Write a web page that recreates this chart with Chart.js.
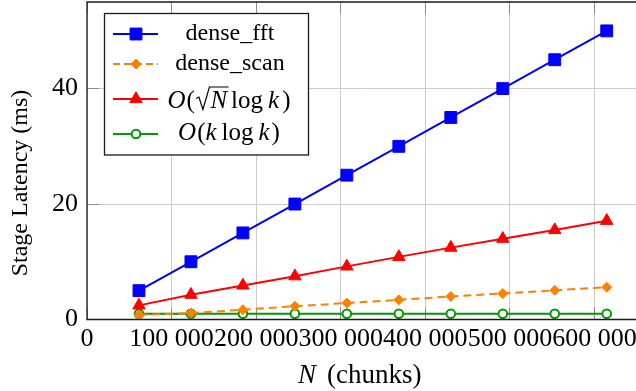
<!DOCTYPE html>
<html>
<head>
<meta charset="utf-8">
<script src="https://cdn.jsdelivr.net/npm/chart.js@4.4.1/dist/chart.umd.min.js"></script>
<style>
  html, body { margin: 0; padding: 0; background: #fff; }
  #c { display: block; }
</style>
</head>
<body>
<canvas id="c" width="636" height="391"></canvas>
<script>
// N (number of chunks) for each measurement
const chunkCounts = [61440, 122880, 184320, 245760, 307200, 368640, 430080, 491520, 552960, 614400];

// Stage latency in ms, one array per series
const denseFft = [5, 10, 15, 20, 25, 30, 35, 40, 45, 50];
const denseScan = [0.8, 1.1, 1.7, 2.3, 2.85, 3.4, 4.0, 4.5, 5.05, 5.6];
const sqrtNLogK = [2.45, 4.3, 5.9, 7.5, 9.2, 10.85, 12.45, 14.0, 15.5, 17.1];
const kLogK = [1.0, 1.0, 1.0, 1.0, 1.0, 1.0, 1.0, 1.0, 1.0, 1.0];

const seriesNames = ['dense_fft', 'dense_scan', 'O(√N log k)', 'O(k log k)'];

// Tick labels
const xTickValues = [0, 100000, 200000, 300000, 400000, 500000, 600000];
const xTickLabels = ['0', '100 000', '200 000', '300 000', '400 000', '500 000', '600 000'];
const yTickValues = [0, 20, 40];
const yTickLabels = ['0', '20', '40'];

const SERIF = '"Liberation Serif", "Times New Roman", serif';

const toPoints = (ys) => chunkCounts.map((n, i) => ({ x: n, y: ys[i] }));

// marker shapes, same geometry as Chart.js point styles
function marker(ctx, style, x, y, r) {
    ctx.beginPath();
    if (style === 'rect') {
        const s = Math.SQRT1_2 * r;
        ctx.rect(x - s, y - s, 2 * s, 2 * s);
    } else if (style === 'rectRot') {
        ctx.moveTo(x - r, y); ctx.lineTo(x, y - r); ctx.lineTo(x + r, y); ctx.lineTo(x, y + r);
        ctx.closePath();
    } else if (style === 'triangle') {
        const a = 2 * Math.PI / 3;
        ctx.moveTo(x, y - r);
        ctx.lineTo(x + Math.sin(a) * r, y - Math.cos(a) * r);
        ctx.lineTo(x + Math.sin(2 * a) * r, y - Math.cos(2 * a) * r);
        ctx.closePath();
    } else {
        ctx.arc(x, y, r, 0, Math.PI * 2);
    }
    ctx.fill();
    ctx.stroke();
}

// draws a row of text pieces (italic / roman / radical) centered at cx
function drawMath(ctx, parts, cx, baseline, size) {
    const fontOf = (p) => (p.it ? 'italic ' : '') + size + 'px ' + SERIF;
    let total = 0;
    parts.forEach(p => {
        ctx.font = fontOf(p);
        p.w = p.sqrt ? size * 0.62 : ctx.measureText(p.t).width;
        total += p.w + (p.gap || 0);
    });
    let x = cx - total / 2;
    ctx.textAlign = 'left';
    ctx.textBaseline = 'alphabetic';
    parts.forEach((p, i) => {
        if (p.sqrt) {
            const next = parts[i + 1];
            ctx.font = fontOf(next);
            const nw = ctx.measureText(next.t).width;
            ctx.beginPath();
            ctx.lineWidth = 1.2;
            ctx.moveTo(x + size * 0.05, baseline - size * 0.36);
            ctx.lineTo(x + size * 0.16, baseline - size * 0.42);
            ctx.lineTo(x + size * 0.32, baseline + size * 0.08);
            ctx.lineTo(x + size * 0.58, baseline - size * 0.82);
            ctx.lineTo(x + p.w + nw + size * 0.06, baseline - size * 0.82);
            ctx.stroke();
        } else {
            ctx.font = fontOf(p);
            ctx.fillText(p.t, x, baseline);
        }
        x += p.w + (p.gap || 0);
    });
}

const legendRows = [
    { color: '#0000ff', dash: [], style: 'rect', r: 8.4, fill: '#0000ff', y: 34, base: 39.5 },
    { color: '#ff8000', dash: [7, 4], style: 'rectRot', r: 5, fill: '#ff8000', y: 64, base: 70 },
    { color: '#ff0000', dash: [], style: 'triangle', r: 7.2, fill: '#ff0000', y: 99, base: 107.5 },
    { color: '#009900', dash: [], style: 'circle', r: 4.3, fill: '#ffffff', y: 134, base: 140 }
];

const mathRows = {
    2: [{ t: 'O', it: true, gap: 1 }, { t: '(' }, { sqrt: true, t: '' }, { t: 'N', it: true, gap: 4 },
        { t: 'log', gap: 5 }, { t: 'k', it: true, gap: 3 }, { t: ')' }],
    3: [{ t: 'O', it: true, gap: 1 }, { t: '(' }, { t: 'k', it: true, gap: 5 },
        { t: 'log', gap: 5 }, { t: 'k', it: true, gap: 2 }, { t: ')' }]
};

const framePlugin = {
    id: 'frame',
    beforeDatasetsDraw(chart) {
        const { ctx, chartArea: a, scales: { x, y } } = chart;
        const al = (p) => Math.round(p - 0.5) + 0.5;
        ctx.save();
        ctx.strokeStyle = '#8c8c8c';
        ctx.lineWidth = 1;
        ctx.beginPath();
        xTickValues.forEach(v => {
            const px = al(x.getPixelForValue(v));
            ctx.moveTo(px, a.top); ctx.lineTo(px, a.top + 12);
            ctx.moveTo(px, a.bottom); ctx.lineTo(px, a.bottom - 12);
        });
        yTickValues.forEach(v => {
            const py = al(y.getPixelForValue(v));
            ctx.moveTo(a.left, py); ctx.lineTo(a.left + 12, py);
        });
        ctx.stroke();
        ctx.restore();
    },
    afterDraw(chart) {
        const { ctx, chartArea: a } = chart;
        ctx.save();

        // axis frame (right side is outside the picture)
        ctx.strokeStyle = '#1a1a1a';
        ctx.lineWidth = 1.3;
        ctx.beginPath();
        ctx.moveTo(a.right + 2, a.top);
        ctx.lineTo(a.left, a.top);
        ctx.lineTo(a.left, a.bottom);
        ctx.lineTo(a.right + 2, a.bottom);
        ctx.stroke();

        // axis titles
        ctx.fillStyle = '#000';
        ctx.textBaseline = 'alphabetic';
        ctx.save();
        ctx.translate(27, 183);
        ctx.rotate(-Math.PI / 2);
        ctx.textAlign = 'center';
        ctx.font = '24px ' + SERIF;
        ctx.fillText('Stage Latency (ms)', 0, 0);
        ctx.restore();

        ctx.textAlign = 'left';
        ctx.font = 'italic 27px ' + SERIF;
        ctx.fillText('N', 298, 383);
        ctx.font = '27px ' + SERIF;
        ctx.fillText('(chunks)', 327, 383);

        // legend box
        ctx.fillStyle = '#fff';
        ctx.fillRect(104.5, 13.5, 204, 141.5);
        ctx.strokeStyle = '#1a1a1a';
        ctx.lineWidth = 1.3;
        ctx.strokeRect(104.5, 13.5, 204, 141.5);

        legendRows.forEach((row, i) => {
            ctx.strokeStyle = row.color;
            ctx.lineWidth = 2;
            ctx.setLineDash(row.dash);
            ctx.beginPath();
            ctx.moveTo(113, row.y);
            ctx.lineTo(158, row.y);
            ctx.stroke();
            ctx.setLineDash([]);
            ctx.fillStyle = row.fill;
            ctx.lineWidth = row.style === 'circle' ? 2 : 1;
            marker(ctx, row.style, 136, row.y, row.r);

            ctx.fillStyle = '#000';
            ctx.strokeStyle = '#000';
            if (mathRows[i]) {
                drawMath(ctx, mathRows[i], 229, row.base, 25);
            } else {
                ctx.font = '24px ' + SERIF;
                ctx.textAlign = 'center';
                ctx.textBaseline = 'alphabetic';
                ctx.fillText(seriesNames[i], 230, row.base);
            }
        });
        ctx.restore();
    }
};

new Chart(document.getElementById('c').getContext('2d'), {
    type: 'line',
    data: {
        datasets: [
            {
                label: seriesNames[0], data: toPoints(denseFft),
                borderColor: '#0000ff', backgroundColor: '#0000ff', borderWidth: 2,
                pointStyle: 'rect', pointRadius: 8.4, pointBorderWidth: 1
            },
            {
                label: seriesNames[1], data: toPoints(denseScan),
                borderColor: '#ff8000', backgroundColor: '#ff8000', borderWidth: 2, borderDash: [8, 5],
                pointStyle: 'rectRot', pointRadius: 5, pointBorderWidth: 1
            },
            {
                label: seriesNames[2], data: toPoints(sqrtNLogK),
                borderColor: '#ff0000', backgroundColor: '#ff0000', borderWidth: 2,
                pointStyle: 'triangle', pointRadius: 7.2, pointBorderWidth: 1
            },
            {
                label: seriesNames[3], data: toPoints(kLogK),
                borderColor: '#009900', backgroundColor: '#ffffff', borderWidth: 2,
                pointStyle: 'circle', pointRadius: 4.3, pointBorderWidth: 2
            }
        ]
    },
    options: {
        responsive: false,
        devicePixelRatio: 1,
        animation: false,
        layout: { autoPadding: false, padding: { top: 2, right: 0, left: 0, bottom: 0 } },
        elements: { line: { tension: 0 } },
        plugins: { legend: { display: false }, tooltip: { enabled: false } },
        scales: {
            x: {
                type: 'linear',
                min: 0,
                max: 649000,
                afterBuildTicks: (s) => { s.ticks = xTickValues.map(v => ({ value: v })); },
                afterFit: (s) => {
                    s.height = 71.5;
                    s.paddingLeft = 0; s.paddingRight = 0; s.paddingTop = 0; s.paddingBottom = 0;
                },
                grid: { color: '#cccccc', lineWidth: 1, drawTicks: false },
                border: { display: false },
                ticks: {
                    autoSkip: false, maxRotation: 0, minRotation: 0, padding: 4, color: '#000',
                    font: { family: SERIF, size: 26 },
                    callback: (v) => xTickLabels[xTickValues.indexOf(v)]
                }
            },
            y: {
                min: 0,
                max: 55,
                afterBuildTicks: (s) => { s.ticks = yTickValues.map(v => ({ value: v })); },
                afterFit: (s) => {
                    s.width = 87;
                    s.paddingLeft = 0; s.paddingRight = 0; s.paddingTop = 0; s.paddingBottom = 0;
                },
                grid: { color: '#cccccc', lineWidth: 1, drawTicks: false },
                border: { display: false },
                ticks: {
                    padding: 9, color: '#000',
                    font: { family: SERIF, size: 26 },
                    callback: (v) => yTickLabels[yTickValues.indexOf(v)]
                }
            }
        }
    },
    plugins: [framePlugin]
});
</script>
</body>
</html>
